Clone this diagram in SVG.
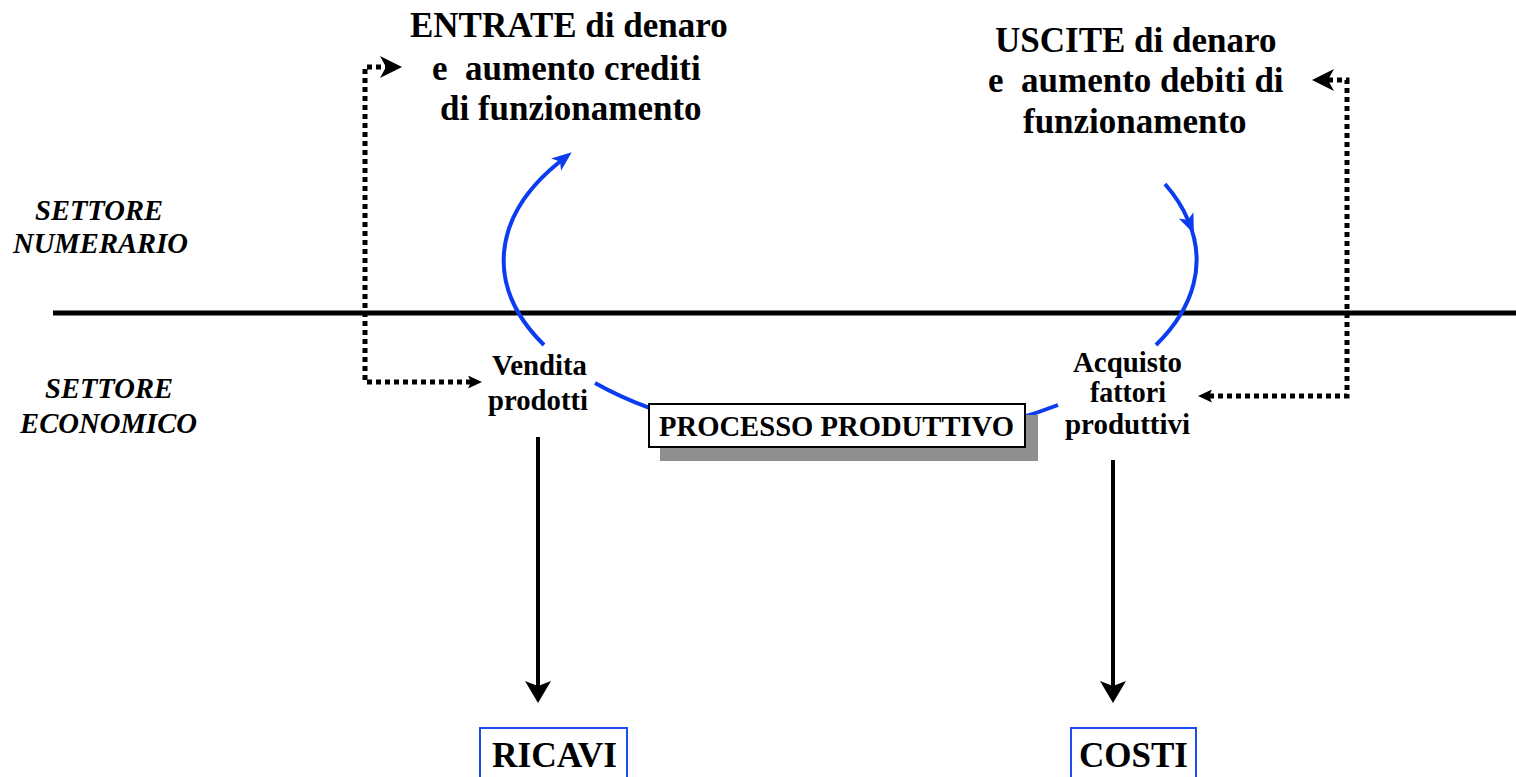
<svg xmlns="http://www.w3.org/2000/svg" width="1516" height="777" viewBox="0 0 1516 777">
<style>
text{font-family:"Liberation Serif","Times New Roman",serif;font-weight:bold;fill:#000}
.h{font-size:35px;white-space:pre}
.lab{font-size:30px}
.box{font-size:30px}
.sec{font-size:30px;font-style:italic}
.res{font-size:36px}
.blue{fill:none;stroke:#0b3cf0;stroke-width:4}
.dot{fill:none;stroke:#000;stroke-width:5;stroke-dasharray:5 4}
.solid{fill:none;stroke:#000;stroke-width:4}
.bbox{fill:#fff;stroke:#1a4ef0;stroke-width:2}
</style>
<defs>
<marker id="ahBig" markerUnits="userSpaceOnUse" viewBox="0 0 22 22" refX="6" refY="11" markerWidth="22" markerHeight="22" orient="auto"><path d="M0,0 L22,11 L0,22 L6,11 z" fill="#000"/></marker>
<marker id="ahSmall" markerUnits="userSpaceOnUse" viewBox="0 0 14 13" refX="3" refY="6.5" markerWidth="14" markerHeight="13" orient="auto-start-reverse"><path d="M0,0 L14,6.5 L0,13 L3,6.5 z" fill="#000"/></marker>
<marker id="ahDown" markerUnits="userSpaceOnUse" viewBox="0 0 22 26" refX="5" refY="13" markerWidth="22" markerHeight="26" orient="auto"><path d="M0,0 L22,13 L0,26 L5,13 z" fill="#000"/></marker>
<marker id="ahBlue" markerUnits="userSpaceOnUse" viewBox="0 0 20 16" refX="5" refY="8" markerWidth="20" markerHeight="16" orient="auto"><path d="M0,0 L20,8 L0,16 L5,8 z" fill="#0b3cf0"/></marker>
</defs>

<g id="divider">
<line x1="53" y1="313" x2="1516" y2="313" stroke="#000" stroke-width="5"/>
</g>

<g id="settore-numerario">
<text class="sec" x="35" y="220" textLength="128" lengthAdjust="spacingAndGlyphs">SETTORE</text>
<text class="sec" x="13" y="253" textLength="175" lengthAdjust="spacingAndGlyphs">NUMERARIO</text>
</g>
<g id="settore-economico">
<text class="sec" x="45" y="398" textLength="128" lengthAdjust="spacingAndGlyphs">SETTORE</text>
<text class="sec" x="20" y="433" textLength="177" lengthAdjust="spacingAndGlyphs">ECONOMICO</text>
</g>

<g id="connectors">
<path class="blue" d="M544,345 A347,181 0 0 1 560,161.5" marker-end="url(#ahBlue)"/>
<path class="blue" d="M595,383 A347,181 0 0 0 850,441"/>
<path class="blue" d="M1165,184 A347,181 0 0 1 1188,220" marker-end="url(#ahBlue)"/>
<path class="blue" d="M1188,220 A347,181 0 0 1 1156,345"/>
<path class="blue" d="M1058,405 A347,181 0 0 1 850,441"/>
<path class="dot" d="M471,382 H365 V67 H386" marker-start="url(#ahSmall)" marker-end="url(#ahBig)"/>
<path class="dot" d="M1209,396 H1347 V80 H1328" marker-start="url(#ahSmall)" marker-end="url(#ahBig)"/>
<path class="solid" d="M538,437 V686" marker-end="url(#ahDown)"/>
<path class="solid" d="M1113,460 V686" marker-end="url(#ahDown)"/>
</g>

<g id="entrate">
<text class="h" x="410" y="37" xml:space="preserve">ENTRATE di denaro</text>
<text class="h" x="432" y="80" xml:space="preserve">e  aumento crediti</text>
<text class="h" x="440" y="120" xml:space="preserve">di funzionamento</text>
</g>

<g id="uscite">
<text class="h" x="995" y="52" xml:space="preserve">USCITE di denaro</text>
<text class="h" x="988" y="92" xml:space="preserve">e  aumento debiti di</text>
<text class="h" x="1023" y="133" xml:space="preserve">funzionamento</text>
</g>

<g id="vendita">
<text class="lab" x="492" y="375" textLength="95" lengthAdjust="spacingAndGlyphs">Vendita</text>
<text class="lab" x="488" y="410" textLength="100" lengthAdjust="spacingAndGlyphs">prodotti</text>
</g>

<g id="acquisto">
<text class="lab" x="1073" y="372" textLength="109" lengthAdjust="spacingAndGlyphs">Acquisto</text>
<text class="lab" x="1090" y="402" textLength="76" lengthAdjust="spacingAndGlyphs">fattori</text>
<text class="lab" x="1065" y="434" textLength="125" lengthAdjust="spacingAndGlyphs">produttivi</text>
</g>

<g id="processo">
<rect x="660" y="415" width="378" height="46" fill="#8f8f8f"/>
<rect x="649" y="404" width="376" height="43" fill="#fff" stroke="#000" stroke-width="2"/>
<text class="box" x="659" y="436" textLength="355" lengthAdjust="spacingAndGlyphs">PROCESSO PRODUTTIVO</text>
</g>

<g id="ricavi">
<rect class="bbox" x="480" y="728" width="147" height="60"/>
<text class="res" x="492" y="767" textLength="125" lengthAdjust="spacingAndGlyphs">RICAVI</text>
</g>
<g id="costi">
<rect class="bbox" x="1071" y="728" width="125" height="60"/>
<text class="res" x="1079" y="767" textLength="109" lengthAdjust="spacingAndGlyphs">COSTI</text>
</g>
</svg>
